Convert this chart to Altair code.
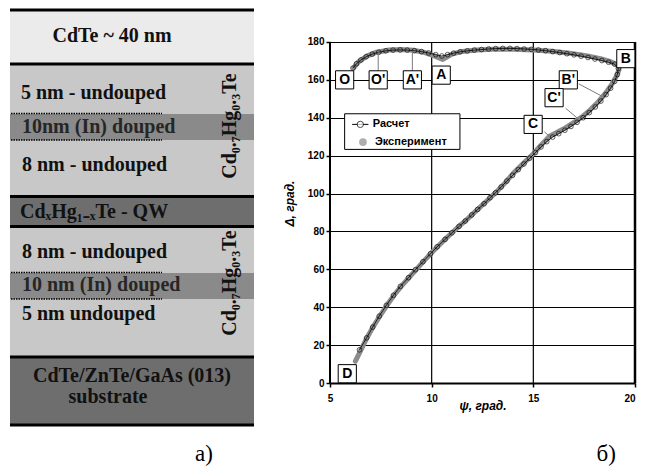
import altair as alt
import pandas as pd

# ---------------- left panel: layer scheme (scheme units) ----------------
panel_x0, panel_x1 = 6, 250
layer_top = [5, 60, 110, 193, 223, 269, 354]
layer_bottom = [60, 193, 136, 223, 354, 295, 422]
layer_fill = ["#ebebeb", "#c8c8c8", "#8a8a8a", "#6e6e6e", "#c8c8c8", "#8a8a8a", "#6e6e6e"]
sep_y = [6, 60, 192.5, 222.5, 353, 421]
dot_y = [109.5, 136, 268.5, 295]
dot_x1 = 158

left_texts = ["5 nm - undouped", "10nm (In) douped", "8 nm - undouped",
              "CdₓHg₁₋ₓTe - QW", "8 nm - undouped", "10 nm (In) douped", "5 nm undouped"]
left_text_x = [17, 18, 18, 16, 18, 18, 18]
left_text_y = [89, 123, 161, 208, 248, 281, 310]
left_text_col = ["#111111", "#262626", "#111111", "#111111", "#111111", "#262626", "#111111"]
center_texts = ["CdTe ~ 40 nm", "CdTe/ZnTe/GaAs (013)", "substrate"]
center_text_x = [108, 128, 104]
center_text_y = [32, 372, 393]
vert_texts = ["Cd₀.₇Hg₀.₃Te", "Cd₀.₇Hg₀.₃Te"]
vert_x = [226, 226]
vert_y = [122, 279]
panel_a_label, panel_a_x, panel_a_y = "а)", 200, 450

# ---------------- right panel: ellipsometry Psi-Delta ----------------
exp_psi = [6.25, 6.5, 6.8, 7.1, 7.45, 7.8, 8.15, 8.5, 8.9, 9.25, 9.6, 9.95, 10.3, 10.65, 11.0,
           11.35, 11.7, 12.0, 12.3, 12.6, 12.9, 13.2, 13.6, 14.0, 14.5, 15.0, 15.4, 15.8, 16.2,
           16.6, 17.0, 17.4, 17.8, 18.2, 18.55, 18.85, 19.08, 19.22, 19.15, 18.8, 18.3, 17.6,
           16.8, 15.9, 15.0, 14.0, 13.0, 12.2, 11.5, 11.0, 10.55, 10.15, 9.6, 9.1, 8.5, 7.9,
           7.3, 6.8, 6.4, 6.17]
exp_delta = [11.5, 17, 23.5, 29.3, 35.3, 41, 46.3, 51, 55.8, 60, 64.2, 68.2, 72, 75.8, 79.3,
             82.8, 86, 89, 92, 95, 98, 101, 105.5, 110.5, 115.8, 121, 125.8, 130.2, 132.5,
             134.8, 137.6, 140.5, 144.2, 148.5, 153, 157.5, 161.8, 165.5, 167.8, 169.6, 171.2,
             172.8, 174.1, 175.1, 175.7, 176.1, 176.1, 175.7, 175.0, 173.6, 170.8, 172.5, 174.6,
             175.6, 176.0, 175.8, 174.6, 172.5, 169.5, 166.4]

calc_psi = [6.45, 6.8, 7.1, 7.42, 7.77, 8.12, 8.46, 8.86, 9.2, 9.57, 9.94, 10.27, 10.66, 11.0,
            11.35, 11.65, 11.97, 12.26, 12.58, 12.87, 13.14, 13.42, 13.7, 13.98, 14.26, 14.54,
            14.82, 15.1, 15.38, 15.66, 15.95, 16.25, 16.55, 16.85, 17.15, 17.45, 17.75, 18.05,
            18.32, 18.58, 18.8, 19.0, 19.13, 19.18, 19.0, 18.7, 18.37, 18.03, 17.69, 17.35,
            17.0, 16.65, 16.3, 15.95, 15.6, 15.25, 14.9, 14.55, 14.2, 13.85, 13.5, 13.15, 12.8,
            12.45, 12.1, 11.75, 11.4, 11.08, 10.78, 10.5, 10.2, 9.85, 9.5, 9.15, 8.8, 8.45, 8.1,
            7.75, 7.4, 7.08, 6.78, 6.52, 6.3, 6.13]
calc_delta = [17.5, 23.8, 29.5, 35.3, 41, 46.3, 51, 55.6, 59.8, 64, 68.2, 71.9, 75.8, 79.3,
              82.7, 85.5, 88.7, 91.6, 94.6, 97.8, 100.4, 103.5, 106.6, 109.6, 112.6, 115.6,
              118.6, 121.6, 124.6, 127.4, 129.8, 131.6, 133.4, 135.4, 137.6, 140, 142.7, 145.7,
              148.8, 152.2, 155.6, 159.2, 162.8, 166.0, 168.3, 169.3, 170.2, 171.0, 171.8, 172.5,
              173.2, 173.8, 174.4, 174.9, 175.4, 175.8, 176.1, 176.3, 176.5, 176.6, 176.6, 176.5,
              176.3, 176.0, 175.7, 175.3, 174.8, 174.1, 173.3, 172.6, 173.3, 174.2, 174.9, 175.4,
              175.7, 175.8, 175.7, 175.3, 174.6, 173.6, 172.2, 170.5, 168.5, 166.2]

point_labels = ["O", "O'", "A'", "A", "B", "B'", "C'", "C", "D"]
label_psi = [5.72, 7.37, 9.05, 10.47, 19.55, 16.72, 16.02, 14.99, 5.85]
label_delta = [160, 160, 160, 162.5, 171.2, 160, 150.6, 136.5, 4.9]

lead_psi = [7.37, 9.05, 17.23, 16.59, 15.54]
lead_delta = [164.7, 164.7, 157.9, 145.0, 132.6]
lead_psi2 = [7.37, 9.05, 18.51, 17.23, 15.78]
lead_delta2 = [175.0, 175.4, 150.6, 139.2, 130.3]

legend_names = ["Расчет", "Эксперимент"]
legend_box = [5.72, 11.39, 123.3, 142.1]
legend_sym_psi = [6.49, 6.62]
legend_line = [6.09, 6.89]
legend_text_psi = [7.1, 7.21]
legend_delta = [136.5, 127.2]

x_ticks = [5, 10, 15, 20]
y_ticks = list(range(0, 181, 20))
panel_b_label, panel_b_psi, panel_b_delta = "б)", 18.58, -37.5

GREY = "#8c8c8c"
SANS = "Liberation Sans"
SERIF = "Liberation Serif"

# ================= left chart =================
lx = alt.Scale(domain=[panel_x0, panel_x1], nice=False, zero=False)
ly = alt.Scale(domain=[5, 461], nice=False, zero=False, reverse=True)

layers_df = pd.DataFrame({"x": panel_x0, "x2": panel_x1, "y": layer_top,
                          "y2": layer_bottom, "c": layer_fill})
rects = alt.Chart(layers_df).mark_rect().encode(
    x=alt.X("x:Q", scale=lx, axis=None), x2="x2:Q",
    y=alt.Y("y:Q", scale=ly, axis=None), y2="y2:Q",
    color=alt.Color("c:N", scale=None))

sep_df = pd.DataFrame({"x": panel_x0, "x2": panel_x1, "y": sep_y})
seps = alt.Chart(sep_df).mark_rule(color="black", strokeWidth=3).encode(
    x=alt.X("x:Q", scale=lx, axis=None), x2="x2:Q",
    y=alt.Y("y:Q", scale=ly, axis=None))

dot_df = pd.DataFrame({"x": panel_x0 + 1, "x2": dot_x1, "y": dot_y})
dots = alt.Chart(dot_df).mark_rule(color="black", strokeWidth=1.5, strokeDash=[1.5, 1]).encode(
    x=alt.X("x:Q", scale=lx, axis=None), x2="x2:Q",
    y=alt.Y("y:Q", scale=ly, axis=None))

lt_df = pd.DataFrame({"x": left_text_x, "y": left_text_y, "t": left_texts, "c": left_text_col})
ltexts = alt.Chart(lt_df).mark_text(align="left", baseline="middle", font=SERIF,
                                    fontWeight="bold", fontSize=20).encode(
    x=alt.X("x:Q", scale=lx, axis=None), y=alt.Y("y:Q", scale=ly, axis=None),
    text="t:N", color=alt.Color("c:N", scale=None))

ct_df = pd.DataFrame({"x": center_text_x, "y": center_text_y, "t": center_texts})
ctexts = alt.Chart(ct_df).mark_text(align="center", baseline="middle", font=SERIF,
                                    fontWeight="bold", fontSize=20, color="#111111").encode(
    x=alt.X("x:Q", scale=lx, axis=None), y=alt.Y("y:Q", scale=ly, axis=None), text="t:N")

vt_df = pd.DataFrame({"x": vert_x, "y": vert_y, "t": vert_texts})
vtexts = alt.Chart(vt_df).mark_text(align="center", baseline="middle", font=SERIF,
                                    fontWeight="bold", fontSize=20, angle=270,
                                    color="#111111").encode(
    x=alt.X("x:Q", scale=lx, axis=None), y=alt.Y("y:Q", scale=ly, axis=None), text="t:N")

a_df = pd.DataFrame({"x": [panel_a_x], "y": [panel_a_y], "t": [panel_a_label]})
atext = alt.Chart(a_df).mark_text(align="center", baseline="middle", font=SERIF,
                                  fontSize=23, color="black").encode(
    x=alt.X("x:Q", scale=lx, axis=None), y=alt.Y("y:Q", scale=ly, axis=None), text="t:N")

left = alt.layer(rects, seps, dots, ltexts, ctexts, vtexts, atext).properties(
    width=244, height=456)

# ================= right chart =================
# plot area is taller than the 0..180 data frame so that it lines up with the scheme
xs = alt.Scale(domain=[5, 20], nice=False, zero=False)
ys = alt.Scale(domain=[0, 197.4], nice=False, zero=False)
common_axis = dict(tickColor="black", tickWidth=1.5, tickSize=4,
                   labelFont=SANS, labelFontWeight="bold", labelFontSize=10,
                   labelColor="black", titleFont=SANS, titleFontStyle="italic",
                   titleFontWeight="bold", titleFontSize=12, titleColor="black", format="d")
xaxis = alt.Axis(values=x_ticks, title="ψ, град.", labelPadding=6, titlePadding=-3,
                 labelFlush=False,
                 labelAlign={"condition": {"test": "datum.value >= 20", "value": "right"},
                             "value": "center"},
                 grid=False, domainColor="black", domainWidth=2, **common_axis)
yaxis = alt.Axis(values=y_ticks, title="Δ, град.", labelPadding=2, titlePadding=11,
                 titleY=194, grid=True, gridColor="black", gridWidth=1.2, domain=False,
                 **common_axis)
X = alt.X("psi:Q", scale=xs, axis=xaxis)
Y = alt.Y("delta:Q", scale=ys, axis=yaxis)

exp_df = pd.DataFrame({"psi": exp_psi, "delta": exp_delta, "i": range(len(exp_psi))})
calc_df = pd.DataFrame({"psi": calc_psi, "delta": calc_delta, "i": range(len(calc_psi))})

# vertical frame / grid lines at the x ticks
vgrid_df = pd.DataFrame({"psi": x_ticks, "delta": y_ticks[0], "delta2": y_ticks[-1],
                         "w": [2, 1.2, 1.2, 2.5]})
vgrid = alt.Chart(vgrid_df).mark_rule(color="black").encode(
    x=X, y=Y, y2="delta2:Q", strokeWidth=alt.StrokeWidth("w:Q", scale=None))

exp_line = alt.Chart(exp_df).mark_line(color=GREY, strokeWidth=5, strokeCap="round",
                                       strokeJoin="round").encode(x=X, y=Y, order="i:Q")
calc_line = alt.Chart(calc_df).mark_line(color="black", strokeWidth=0.8).encode(
    x=X, y=Y, order="i:Q")
calc_pts = alt.Chart(calc_df).mark_point(shape="circle", size=22, filled=False,
                                         color="black", strokeWidth=0.9).encode(x=X, y=Y)

lead_df = pd.DataFrame({"psi": lead_psi, "delta": lead_delta, "psi2": lead_psi2,
                        "delta2": lead_delta2})
leads = alt.Chart(lead_df).mark_rule(color="#7a7a7a", strokeWidth=1).encode(
    x=X, y=Y, x2="psi2:Q", y2="delta2:Q")

lab_df = pd.DataFrame({"psi": label_psi, "delta": label_delta, "t": point_labels})
boxes = alt.Chart(lab_df).mark_point(shape="square", size=330, filled=True, fill="white",
                                     stroke="black", strokeWidth=1, opacity=1).encode(x=X, y=Y)
btexts = alt.Chart(lab_df).mark_text(font=SANS, fontWeight="bold", fontSize=14,
                                     color="black", baseline="middle").encode(
    x=X, y=Y, text="t:N")

lb_df = pd.DataFrame({"psi": [legend_box[0]], "psi2": [legend_box[1]],
                      "delta": [legend_box[2]], "delta2": [legend_box[3]]})
lbox = alt.Chart(lb_df).mark_rect(fill="white", stroke="black", strokeWidth=1).encode(
    x=X, x2="psi2:Q", y=Y, y2="delta2:Q")
ll_df = pd.DataFrame({"psi": [legend_line[0]], "psi2": [legend_line[1]],
                      "delta": [legend_delta[0]]})
lline = alt.Chart(ll_df).mark_rule(color="black", strokeWidth=1).encode(
    x=X, x2="psi2:Q", y=Y)
lsym1 = alt.Chart(pd.DataFrame({"psi": [legend_sym_psi[0]], "delta": [legend_delta[0]]})
                  ).mark_point(shape="circle", size=40, filled=True, fill="white",
                               stroke="black", strokeWidth=1).encode(x=X, y=Y)
lsym2 = alt.Chart(pd.DataFrame({"psi": [legend_sym_psi[1]], "delta": [legend_delta[1]]})
                  ).mark_point(shape="circle", size=60, filled=True, color=GREY).encode(x=X, y=Y)
lt2_df = pd.DataFrame({"psi": legend_text_psi, "delta": legend_delta, "t": legend_names})
ltext2 = alt.Chart(lt2_df).mark_text(align="left", baseline="middle", font=SANS,
                                     fontWeight="bold", fontSize=11, color="black").encode(
    x=X, y=Y, text="t:N")

b_df = pd.DataFrame({"psi": [panel_b_psi], "delta": [panel_b_delta], "t": [panel_b_label]})
btext = alt.Chart(b_df).mark_text(align="center", baseline="middle", font=SERIF,
                                  fontSize=23, color="black").encode(x=X, y=Y, text="t:N")

right = alt.layer(vgrid, exp_line, calc_line, calc_pts, leads, boxes, btexts,
                  lbox, lline, lsym1, lsym2, ltext2, btext).properties(
    width=305, height=374)

chart = alt.hconcat(left, right, spacing=27).properties(
    padding=0, background="white").configure_view(stroke=None)

chart.save("out.html", embed_options={"renderer": "svg", "actions": False})
